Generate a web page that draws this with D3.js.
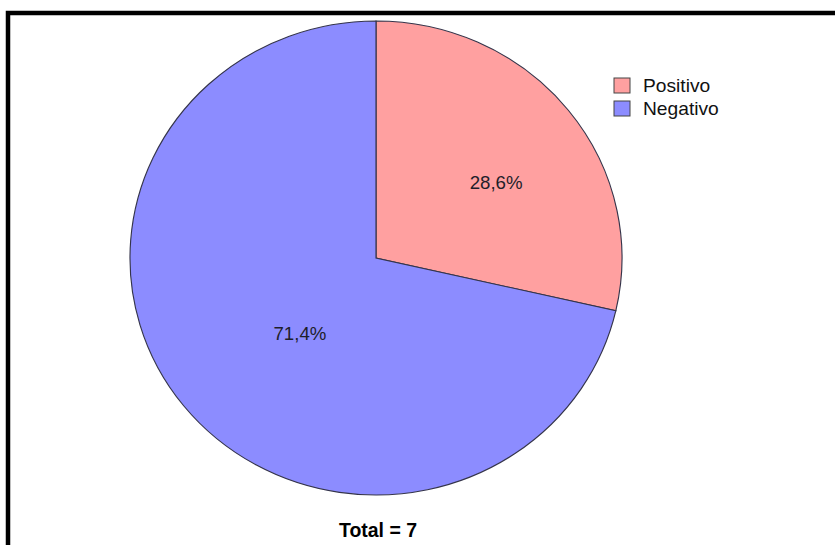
<!DOCTYPE html>
<html>
<head>
<meta charset="utf-8">
<script src="https://cdn.jsdelivr.net/npm/d3@7"></script>
<style>
  html, body { margin: 0; padding: 0; background: #fff; }
  svg { display: block; font-family: "Liberation Sans", Arial, sans-serif; }
</style>
</head>
<body>
<svg id="chart" width="835" height="545"></svg>
<script>
// Result categories and case counts
const categories = ["Positivo", "Negativo"];
const counts = [2, 5];
const sliceColors = ["#FFA0A0", "#8C8CFF"];
const totalLabel = "Total = ";

const W = 835, H = 545;
const cx = 376, cy = 258;
const radius = 237;
const stretchX = 1.038;   // the pie is drawn slightly wider than tall

const svg = d3.select("#chart");

// Frame around the chart
svg.append("rect")
  .attr("x", 8).attr("y", 13)
  .attr("width", 900).attr("height", 600)
  .attr("fill", "none")
  .attr("stroke", "#000")
  .attr("stroke-width", 4.5);

const data = categories.map((c, i) => ({ category: c, value: counts[i], color: sliceColors[i] }));
const total = d3.sum(counts);

const pie = d3.pie().value(d => d.value).sort(null);
const arcs = pie(data);

const arc = d3.arc().innerRadius(0).outerRadius(radius);
const labelArc = d3.arc().innerRadius(0).outerRadius(radius * 1.02);

const g = svg.append("g")
  .attr("transform", `translate(${cx},${cy}) scale(${stretchX},1)`);

g.selectAll("path.slice")
  .data(arcs)
  .join("path")
  .attr("class", "slice")
  .attr("d", arc)
  .attr("fill", d => d.data.color)
  .attr("stroke", "#34344a")
  .attr("stroke-width", 1.1);

// Percentage labels
const fmt = v => d3.format(".1f")(v).replace(".", ",") + "%";
svg.selectAll("text.pct")
  .data(arcs)
  .join("text")
  .attr("class", "pct")
  .attr("transform", d => {
    const [x, y] = labelArc.centroid(d);
    return `translate(${cx + x * stretchX + 22},${cy + y}) scale(${stretchX},1)`;
  })
  .attr("text-anchor", "middle")
  .attr("dy", "0.35em")
  .attr("font-size", 18)
  .attr("fill", "#1e1e2a")
  .text(d => fmt(d.data.value / total * 100));

// Legend
const legend = svg.append("g").attr("transform", "translate(614,78)");
const item = legend.selectAll("g")
  .data(data)
  .join("g")
  .attr("transform", (d, i) => `translate(0,${i * 23})`);
item.append("rect")
  .attr("width", 16).attr("height", 15)
  .attr("fill", d => d.color)
  .attr("stroke", "#444")
  .attr("stroke-width", 1);
item.append("text")
  .attr("transform", `translate(29,14) scale(${stretchX},1)`)
  .attr("font-size", 18.5)
  .attr("fill", "#111")
  .text(d => d.category);

// Total caption
svg.append("text")
  .attr("x", 378).attr("y", 537)
  .attr("text-anchor", "middle")
  .attr("font-size", 20)
  .attr("font-weight", "bold")
  .attr("fill", "#000")
  .attr("textLength", 78)
  .attr("lengthAdjust", "spacingAndGlyphs")
  .text(totalLabel + total);
</script>
</body>
</html>
